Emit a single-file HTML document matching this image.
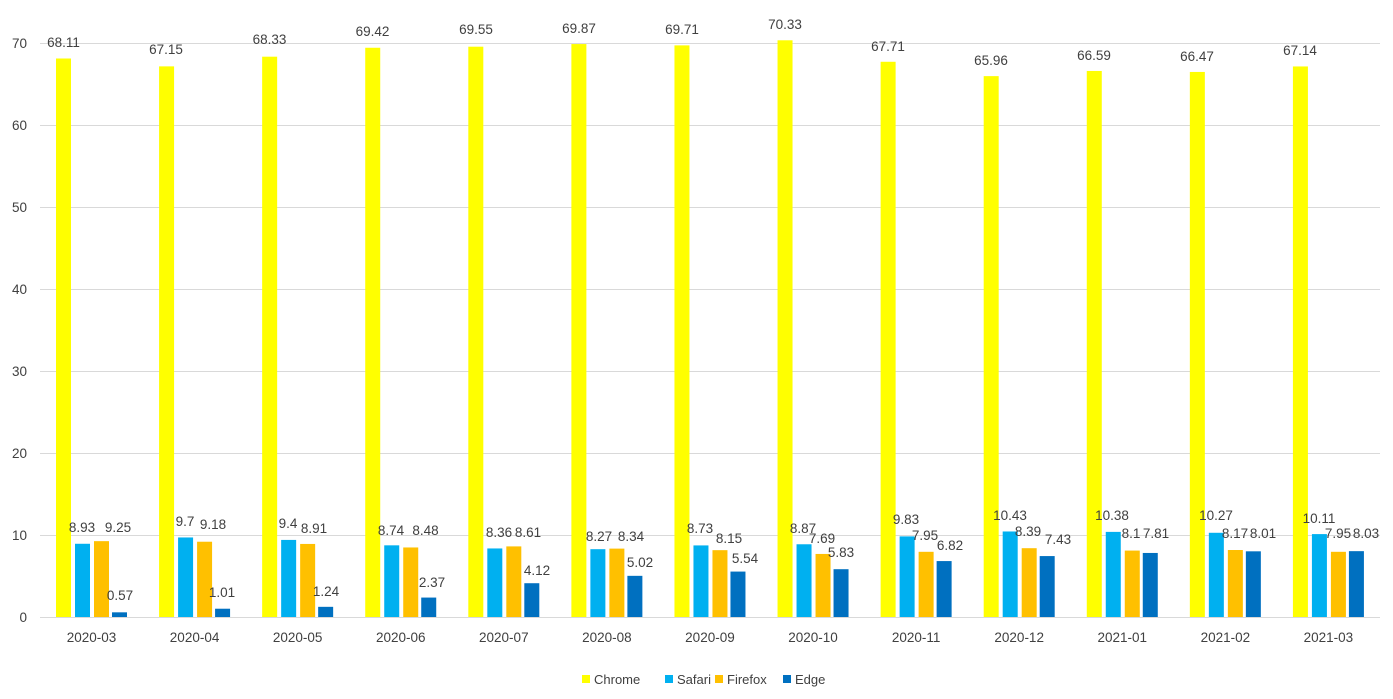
<!DOCTYPE html><html><head><meta charset="utf-8"><style>body{margin:0;background:#fff}svg{display:block;font-family:"Liberation Sans",sans-serif;font-size:13.5px;fill:#404040}</style></head><body>
<svg width="1393" height="699" xmlns="http://www.w3.org/2000/svg">
<g stroke="#d9d9d9" stroke-width="1">
<line x1="40" x2="1380" y1="43.5" y2="43.5"/><line x1="40" x2="1380" y1="125.5" y2="125.5"/><line x1="40" x2="1380" y1="207.5" y2="207.5"/><line x1="40" x2="1380" y1="289.5" y2="289.5"/><line x1="40" x2="1380" y1="371.5" y2="371.5"/><line x1="40" x2="1380" y1="453.5" y2="453.5"/><line x1="40" x2="1380" y1="535.5" y2="535.5"/><line x1="40" x2="1380" y1="617.5" y2="617.5"/>
</g>
<g text-anchor="end">
<text x="27" y="48">70</text><text x="27" y="130">60</text><text x="27" y="212">50</text><text x="27" y="294">40</text><text x="27" y="376">30</text><text x="27" y="458">20</text><text x="27" y="540">10</text><text x="27" y="622">0</text>
</g>
<g text-anchor="middle">
<g transform="translate(40,617)"><g transform="scale(1,-8.2)"><rect x="16" width="15" height="68.11" fill="#FFFF00"/><rect x="35" width="15" height="8.93" fill="#00B0F0"/><rect x="54" width="15" height="9.25" fill="#FFC000"/><rect x="72" width="15" height="0.57" fill="#0070C0"/></g><text x="51.5" y="25">2020-03</text></g>
<g transform="translate(143.08,617)"><g transform="scale(1,-8.2)"><rect x="16" width="15" height="67.15" fill="#FFFF00"/><rect x="35" width="15" height="9.7" fill="#00B0F0"/><rect x="54" width="15" height="9.18" fill="#FFC000"/><rect x="72" width="15" height="1.01" fill="#0070C0"/></g><text x="51.5" y="25">2020-04</text></g>
<g transform="translate(246.15,617)"><g transform="scale(1,-8.2)"><rect x="16" width="15" height="68.33" fill="#FFFF00"/><rect x="35" width="15" height="9.4" fill="#00B0F0"/><rect x="54" width="15" height="8.91" fill="#FFC000"/><rect x="72" width="15" height="1.24" fill="#0070C0"/></g><text x="51.5" y="25">2020-05</text></g>
<g transform="translate(349.23,617)"><g transform="scale(1,-8.2)"><rect x="16" width="15" height="69.42" fill="#FFFF00"/><rect x="35" width="15" height="8.74" fill="#00B0F0"/><rect x="54" width="15" height="8.48" fill="#FFC000"/><rect x="72" width="15" height="2.37" fill="#0070C0"/></g><text x="51.5" y="25">2020-06</text></g>
<g transform="translate(452.31,617)"><g transform="scale(1,-8.2)"><rect x="16" width="15" height="69.55" fill="#FFFF00"/><rect x="35" width="15" height="8.36" fill="#00B0F0"/><rect x="54" width="15" height="8.61" fill="#FFC000"/><rect x="72" width="15" height="4.12" fill="#0070C0"/></g><text x="51.5" y="25">2020-07</text></g>
<g transform="translate(555.38,617)"><g transform="scale(1,-8.2)"><rect x="16" width="15" height="69.87" fill="#FFFF00"/><rect x="35" width="15" height="8.27" fill="#00B0F0"/><rect x="54" width="15" height="8.34" fill="#FFC000"/><rect x="72" width="15" height="5.02" fill="#0070C0"/></g><text x="51.5" y="25">2020-08</text></g>
<g transform="translate(658.46,617)"><g transform="scale(1,-8.2)"><rect x="16" width="15" height="69.71" fill="#FFFF00"/><rect x="35" width="15" height="8.73" fill="#00B0F0"/><rect x="54" width="15" height="8.15" fill="#FFC000"/><rect x="72" width="15" height="5.54" fill="#0070C0"/></g><text x="51.5" y="25">2020-09</text></g>
<g transform="translate(761.54,617)"><g transform="scale(1,-8.2)"><rect x="16" width="15" height="70.33" fill="#FFFF00"/><rect x="35" width="15" height="8.87" fill="#00B0F0"/><rect x="54" width="15" height="7.69" fill="#FFC000"/><rect x="72" width="15" height="5.83" fill="#0070C0"/></g><text x="51.5" y="25">2020-10</text></g>
<g transform="translate(864.62,617)"><g transform="scale(1,-8.2)"><rect x="16" width="15" height="67.71" fill="#FFFF00"/><rect x="35" width="15" height="9.83" fill="#00B0F0"/><rect x="54" width="15" height="7.95" fill="#FFC000"/><rect x="72" width="15" height="6.82" fill="#0070C0"/></g><text x="51.5" y="25">2020-11</text></g>
<g transform="translate(967.69,617)"><g transform="scale(1,-8.2)"><rect x="16" width="15" height="65.96" fill="#FFFF00"/><rect x="35" width="15" height="10.43" fill="#00B0F0"/><rect x="54" width="15" height="8.39" fill="#FFC000"/><rect x="72" width="15" height="7.43" fill="#0070C0"/></g><text x="51.5" y="25">2020-12</text></g>
<g transform="translate(1070.77,617)"><g transform="scale(1,-8.2)"><rect x="16" width="15" height="66.59" fill="#FFFF00"/><rect x="35" width="15" height="10.38" fill="#00B0F0"/><rect x="54" width="15" height="8.1" fill="#FFC000"/><rect x="72" width="15" height="7.81" fill="#0070C0"/></g><text x="51.5" y="25">2021-01</text></g>
<g transform="translate(1173.85,617)"><g transform="scale(1,-8.2)"><rect x="16" width="15" height="66.47" fill="#FFFF00"/><rect x="35" width="15" height="10.27" fill="#00B0F0"/><rect x="54" width="15" height="8.17" fill="#FFC000"/><rect x="72" width="15" height="8.01" fill="#0070C0"/></g><text x="51.5" y="25">2021-02</text></g>
<g transform="translate(1276.92,617)"><g transform="scale(1,-8.2)"><rect x="16" width="15" height="67.14" fill="#FFFF00"/><rect x="35" width="15" height="10.11" fill="#00B0F0"/><rect x="54" width="15" height="7.95" fill="#FFC000"/><rect x="72" width="15" height="8.03" fill="#0070C0"/></g><text x="51.5" y="25">2021-03</text></g>
<!-- chrome labels -->
<text x="63.5" y="47">68.11</text><text x="166" y="54">67.15</text><text x="269.5" y="44">68.33</text><text x="372.5" y="36">69.42</text><text x="476" y="34">69.55</text><text x="579" y="33">69.87</text><text x="682" y="34">69.71</text><text x="785" y="29">70.33</text><text x="888" y="51">67.71</text><text x="991" y="65">65.96</text><text x="1094" y="60">66.59</text><text x="1197" y="61">66.47</text><text x="1300" y="55">67.14</text>
<!-- others -->
<text x="82" y="532">8.93</text><text x="118" y="532">9.25</text><text x="120" y="600">0.57</text>
<text x="185" y="526">9.7</text><text x="213" y="529">9.18</text><text x="222" y="597">1.01</text>
<text x="288" y="528">9.4</text><text x="314" y="533">8.91</text><text x="326" y="596">1.24</text>
<text x="391" y="535">8.74</text><text x="425.5" y="535">8.48</text><text x="432" y="587">2.37</text>
<text x="499" y="537">8.36</text><text x="528" y="537">8.61</text><text x="537" y="575">4.12</text>
<text x="599" y="541">8.27</text><text x="631" y="541">8.34</text><text x="640" y="567">5.02</text>
<text x="700" y="533">8.73</text><text x="729" y="543">8.15</text><text x="745" y="563">5.54</text>
<text x="803" y="533">8.87</text><text x="822" y="543">7.69</text><text x="841" y="557">5.83</text>
<text x="906" y="524">9.83</text><text x="925" y="540">7.95</text><text x="950" y="550">6.82</text>
<text x="1010" y="520">10.43</text><text x="1028" y="536">8.39</text><text x="1058" y="544">7.43</text>
<text x="1112" y="520">10.38</text><text x="1131" y="538">8.1</text><text x="1156" y="538">7.81</text>
<text x="1216" y="520">10.27</text><text x="1235" y="538">8.17</text><text x="1263" y="538">8.01</text>
<text x="1319" y="523">10.11</text><text x="1338" y="538">7.95</text><text x="1366" y="538">8.03</text>
</g>
<g font-size="13">
<rect x="582" y="675" width="8" height="8" fill="#FFFF00"/><text x="594" y="684">Chrome</text>
<rect x="665" y="675" width="8" height="8" fill="#00B0F0"/><text x="677" y="684">Safari</text>
<rect x="715" y="675" width="8" height="8" fill="#FFC000"/><text x="727" y="684">Firefox</text>
<rect x="783" y="675" width="8" height="8" fill="#0070C0"/><text x="795" y="684">Edge</text>
</g>
</svg></body></html>
